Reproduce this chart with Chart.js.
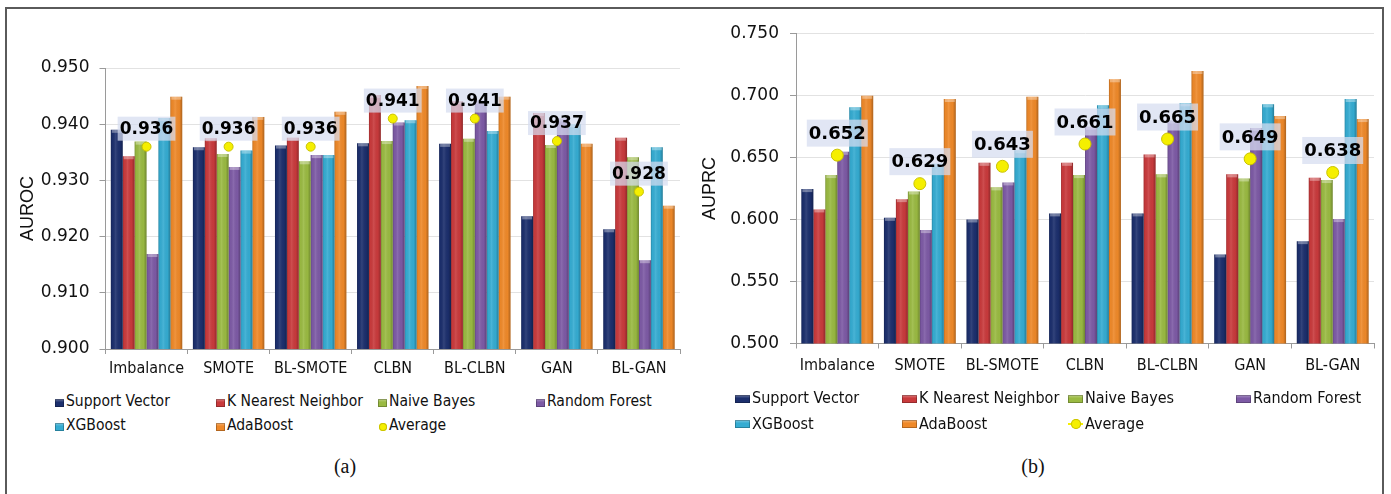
<!DOCTYPE html>
<html>
<head>
<meta charset="utf-8">
<script src="https://cdn.jsdelivr.net/npm/chart.js@4/dist/chart.umd.min.js"></script>
<style>
  html, body { margin: 0; padding: 0; background: #fff; }
  body { width: 1391px; height: 494px; position: relative; overflow: hidden; }
  #frame { position: absolute; left: 5px; top: 7px; width: 1379px; height: 500px; border: 2px solid #5a5a5a; box-sizing: border-box; }
  canvas { position: absolute; top: 0; }
  .lg { position: absolute; white-space: nowrap; color: #111; font-family: "DejaVu Sans Condensed", "DejaVu Sans", sans-serif; line-height: 1; }
  .sw { position: absolute; }
  .cap { position: absolute; font-family: "Liberation Serif", "Times New Roman", serif; font-size: 20px; color: #111; transform: translate(-50%, -50%); }
</style>
</head>
<body>
<div id="frame"></div>
<canvas id="rocChart" width="690" height="390" style="left:0px"></canvas>
<canvas id="prcChart" width="701" height="390" style="left:690px"></canvas>
<div id="legends"></div>
<div class="cap" style="left:345px; top:466px">(a)</div>
<div class="cap" style="left:1033px; top:466px">(b)</div>

<script>
// Resampling strategies on the x axis
const categories = ['Imbalance', 'SMOTE', 'BL-SMOTE', 'CLBN', 'BL-CLBN', 'GAN', 'BL-GAN'];

// Classifiers and their colours
const seriesNames = ['Support Vector', 'K Nearest Neighbor', 'Naive Bayes', 'Random Forest', 'XGBoost', 'AdaBoost'];
const seriesColors = ['#1c2f6d', '#c93a3c', '#9aba42', '#7d5aa5', '#35acd2', '#ef8929'];
const averageName = 'Average';
const averageColor = '#f5ef00';

// (a) AUROC per classifier
const aurocSV  = [0.9390, 0.9359, 0.9362, 0.9366, 0.9365, 0.9236, 0.9213];
const aurocKNN = [0.9343, 0.9375, 0.9376, 0.9452, 0.9441, 0.9420, 0.9376];
const aurocNB  = [0.9369, 0.9347, 0.9334, 0.9370, 0.9374, 0.9363, 0.9341];
const aurocRF  = [0.9169, 0.9324, 0.9345, 0.9403, 0.9442, 0.9410, 0.9158];
const aurocXGB = [0.9411, 0.9353, 0.9345, 0.9407, 0.9388, 0.9400, 0.9359];
const aurocAda = [0.9449, 0.9413, 0.9422, 0.9468, 0.9449, 0.9365, 0.9255];
const aurocAvg = [0.936, 0.936, 0.936, 0.941, 0.941, 0.937, 0.928];

// (b) AUPRC per classifier
const auprcSV  = [0.6246, 0.6014, 0.6001, 0.6050, 0.6050, 0.5719, 0.5826];
const auprcKNN = [0.6082, 0.6165, 0.6458, 0.6458, 0.6526, 0.6365, 0.6337];
const auprcNB  = [0.6359, 0.6227, 0.6260, 0.6359, 0.6365, 0.6332, 0.6319];
const auprcRF  = [0.6547, 0.5915, 0.6300, 0.6750, 0.6800, 0.6740, 0.6004];
const auprcXGB = [0.6906, 0.6450, 0.6560, 0.6922, 0.6938, 0.6930, 0.6973];
const auprcAda = [0.6999, 0.6973, 0.6991, 0.7132, 0.7199, 0.6835, 0.6811];
const auprcAvg = [0.652, 0.629, 0.643, 0.661, 0.665, 0.649, 0.638];

// Axis ranges and tick labels
const aurocTicks = ['0.900', '0.910', '0.920', '0.930', '0.940', '0.950'];
const auprcTicks = ['0.500', '0.550', '0.600', '0.650', '0.700', '0.750'];

// Glossy shading on top of each bar, drawn from the bar element geometry
const barShade = {
  id: 'barShade',
  afterDatasetDraw(chart, args) {
    const meta = args.meta;
    if (meta.type !== 'bar') return;
    const ctx = chart.ctx;
    ctx.save();
    const a = chart.chartArea;
    ctx.beginPath(); ctx.rect(a.left, a.top, a.right - a.left, a.bottom - a.top); ctx.clip();
    meta.data.forEach(bar => {
      const p = bar.getProps(['x', 'y', 'base', 'width'], true);
      const l = p.x - p.width / 2;
      const g = ctx.createLinearGradient(l, 0, l + p.width, 0);
      g.addColorStop(0, 'rgba(0,0,0,0.22)');
      g.addColorStop(0.12, 'rgba(0,0,0,0.02)');
      g.addColorStop(0.4, 'rgba(255,255,255,0.10)');
      g.addColorStop(0.75, 'rgba(0,0,0,0.02)');
      g.addColorStop(1, 'rgba(0,0,0,0.28)');
      ctx.fillStyle = g;
      ctx.fillRect(l, p.y, p.width, p.base - p.y);
      ctx.fillStyle = 'rgba(255,255,255,0.35)';
      ctx.fillRect(l + 1, p.y, p.width - 2, 3);
    });
    ctx.restore();
  }
};

// Value boxes above the average markers
const avgLabels = {
  id: 'avgLabels',
  afterDatasetsDraw(chart, args, opts) {
    const ctx = chart.ctx;
    chart.data.datasets.forEach((ds, di) => {
      if (ds.type !== 'line') return;
      const meta = chart.getDatasetMeta(di);
      meta.data.forEach((pt, i) => {
        const text = ds.data[i].toFixed(3);
        ctx.save();
        ctx.font = 'bold ' + opts.size + 'px "DejaVu Sans", sans-serif';
        const w = ctx.measureText(text).width + 2 * opts.padX;
        const h = opts.boxH;
        const cx = pt.x, cy = pt.y - opts.lift;
        ctx.fillStyle = 'rgba(214, 221, 240, 0.72)';
        ctx.fillRect(cx - w / 2, cy - h / 2, w, h);
        ctx.fillStyle = '#000';
        ctx.textAlign = 'center';
        ctx.textBaseline = 'middle';
        ctx.fillText(text, cx, cy + 1);
        ctx.restore();
      });
    });
  }
};

function buildChart(canvasId, seriesData, avgData, cfg) {
  const datasets = seriesData.map((vals, i) => ({
    type: 'bar',
    label: seriesNames[i],
    data: vals,
    backgroundColor: seriesColors[i],
    borderWidth: 0,
    categoryPercentage: 0.87,
    barPercentage: 1.0,
    order: 2
  }));
  datasets.push({
    type: 'line',
    label: averageName,
    data: avgData,
    showLine: false,
    pointRadius: cfg.dotR,
    pointBackgroundColor: averageColor,
    pointBorderColor: '#c9c200',
    pointBorderWidth: 1,
    order: 0
  });
  return new Chart(document.getElementById(canvasId), {
    data: { labels: categories, datasets },
    plugins: [barShade, avgLabels],
    options: {
      responsive: false,
      animation: false,
      layout: { padding: { top: cfg.padTop, right: cfg.padRight, left: 0, bottom: 0 } },
      plugins: {
        legend: { display: false },
        tooltip: { enabled: false },
        avgLabels: cfg.label
      },
      scales: {
        x: {
          grid: { drawOnChartArea: false, drawTicks: true, tickLength: 5, tickColor: '#9a9a9a', offset: true },
          border: { color: '#9a9a9a', width: 1 },
          ticks: { color: '#111', padding: cfg.xPad, font: { family: '"DejaVu Sans Condensed", "DejaVu Sans", sans-serif', size: cfg.xFont } },
          afterFit: s => { s.height = cfg.xHeight; }
        },
        y: {
          min: cfg.min, max: cfg.max,
          grid: { color: '#e2e2e2', tickLength: 6, tickColor: '#9a9a9a' },
          border: { color: '#9a9a9a', width: 1 },
          ticks: {
            stepSize: cfg.step, color: '#111', padding: cfg.yPad,
            font: { family: '"DejaVu Sans", sans-serif', size: 17 },
            callback: (v, i) => cfg.ticks[i]
          },
          title: {
            display: true, text: cfg.title, color: '#111',
            font: { family: '"Liberation Sans", Arial, sans-serif', size: 18 },
            padding: { top: cfg.titlePad, bottom: 0 }
          },
          afterFit: s => { s.width = cfg.yWidth; }
        }
      }
    }
  });
}

const rocChart = buildChart('rocChart',
  [aurocSV, aurocKNN, aurocNB, aurocRF, aurocXGB, aurocAda], aurocAvg,
  { min: 0.9, max: 0.95, step: 0.01, ticks: aurocTicks, title: 'AUROC',
    padTop: 68, padRight: 10, yWidth: 105.5, xHeight: 41, xPad: 5, yPad: 10, xFont: 16,
    titlePad: 17, dotR: 4.5, label: { size: 17, padX: 2, boxH: 24, lift: 18 } });

const prcChart = buildChart('prcChart',
  [auprcSV, auprcKNN, auprcNB, auprcRF, auprcXGB, auprcAda], auprcAvg,
  { min: 0.5, max: 0.75, step: 0.05, ticks: auprcTicks, title: 'AUPRC',
    padTop: 33.7, padRight: 17, yWidth: 106, xHeight: 46.5, xPad: 8, yPad: 11, xFont: 16,
    titlePad: 9, dotR: 6, label: { size: 18, padX: 2, boxH: 27, lift: 22 } });

// Legends laid out in a four-column grid under each chart
function buildLegend(chart, x0, cols, rows, swW, fontSize, lineMarker) {
  const host = document.getElementById('legends');
  chart.data.datasets.forEach((ds, i) => {
    const col = i % 4, row = Math.floor(i / 4);
    const sx = x0 + cols[col], cy = rows[row];
    const sw = document.createElement('div');
    sw.className = 'sw';
    if (ds.type === 'line') {
      if (lineMarker) {
        const ln = document.createElement('div');
        ln.className = 'sw';
        ln.style.cssText = `left:${sx}px;top:${cy - 1}px;width:${swW}px;height:2px;background:${averageColor};`;
        host.appendChild(ln);
      }
      const d = lineMarker ? 10 : 8;
      sw.style.cssText = `left:${sx + swW / 2 - d / 2}px;top:${cy - d / 2}px;width:${d}px;height:${d}px;border-radius:50%;background:${averageColor};box-shadow:inset 0 0 0 1px #c9c200;`;
    } else {
      const c = ds.backgroundColor;
      sw.style.cssText = `left:${sx}px;top:${cy - 4}px;width:${swW}px;height:8px;background:linear-gradient(180deg, rgba(255,255,255,0.35) 0, rgba(255,255,255,0) 40%), ${c};box-shadow:inset 0 0 0 1px rgba(0,0,0,0.25);`;
    }
    host.appendChild(sw);
    const t = document.createElement('div');
    t.className = 'lg';
    t.textContent = ds.label;
    t.style.cssText += `left:${sx + swW + 2}px;top:${cy - fontSize * 0.55}px;font-size:${fontSize}px;`;
    host.appendChild(t);
  });
}

buildLegend(rocChart, 0, [55, 216, 378, 536], [402.7, 426.7], 9, 15.5, false);
buildLegend(prcChart, 0, [735, 902, 1068, 1236], [399, 424.3], 15, 16, true);
</script>
</body>
</html>
